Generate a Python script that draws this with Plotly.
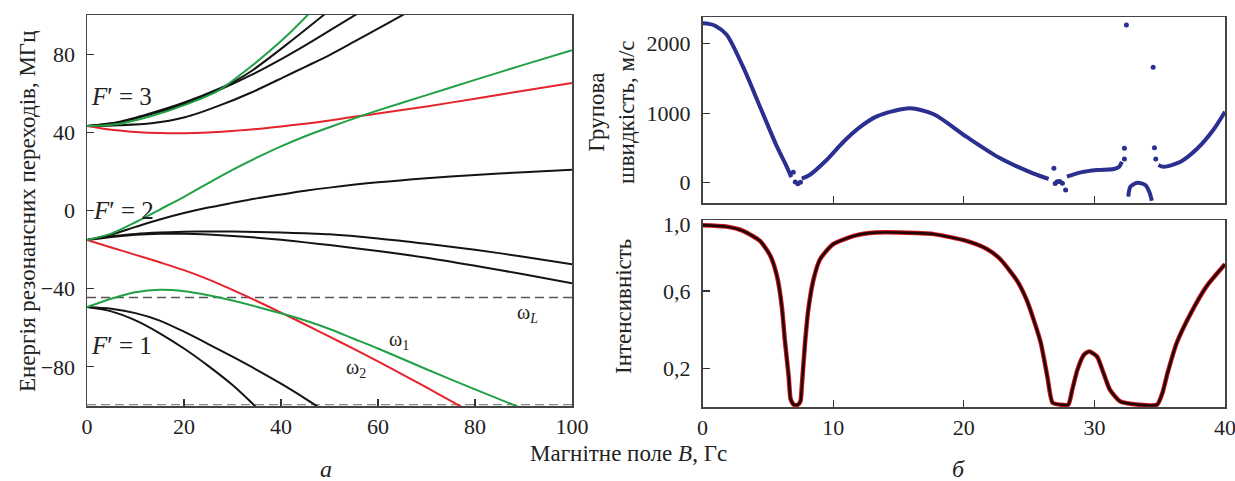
import plotly.graph_objects as go

W, H = 1235, 481

# ---------------- Left panel: transition energies (MHz) vs B (G) ----------------
red3_x = [0, 5, 10, 15, 20, 25, 30, 35, 40, 45, 50, 55, 60, 70, 80, 90, 100]
red3_y = [43.2, 41.3, 40.2, 39.6, 39.5, 39.9, 40.7, 41.7, 43.0, 44.4, 46.0, 47.9, 49.6, 53.2, 57.2, 61.2, 65.2]

green3_x = [0, 6.5, 13.3, 20.2, 27.1, 30.5, 34, 40.8, 45.5, 47]
green3_y = [43.2, 44.3, 48.3, 54.0, 61.3, 67.3, 74.0, 88.5, 100, 104]

blackA_x = [0, 6.5, 13.3, 20.2, 27.1, 30.5, 34, 40.8, 47.7, 50]
blackA_y = [43.2, 45.3, 49.9, 55.4, 62.2, 66.2, 71.5, 84.2, 97.8, 102.5]

blackB_x = [0, 6.5, 13.3, 20.2, 27.1, 34, 40.8, 45, 50, 55, 58]
blackB_y = [43.2, 45.0, 49.3, 54.6, 61.5, 69.5, 78.5, 84.5, 92.0, 99.5, 104]

blackC_x = [0, 6.5, 13.3, 20.2, 27.1, 34, 40.8, 45, 50, 55, 60, 65.8, 68]
blackC_y = [43.2, 43.6, 44.6, 47.7, 53.5, 60.5, 68.5, 73.5, 79.5, 86.2, 93.0, 101.0, 104]

green2_x = [0, 5, 10, 15, 20, 25, 30, 35, 40, 45, 50, 55, 60, 70, 80, 90, 100]
green2_y = [-15.1, -11.8, -6.0, 0.5, 7.0, 14.0, 20.8, 27.0, 32.8, 38.0, 42.6, 47.0, 51.2, 59.0, 66.8, 74.5, 82.0]

black2up_x = [0, 5, 10, 15, 20, 25, 30, 35, 40, 45, 50, 60, 70, 80, 90, 100]
black2up_y = [-15.1, -12.3, -8.4, -4.6, -1.3, 1.5, 3.9, 6.2, 8.2, 10.1, 11.7, 14.4, 16.5, 18.2, 19.6, 20.9]

black2a_x = [0, 5, 10, 15, 20, 25, 30, 35, 40, 45, 50, 60, 70, 75, 80, 90, 100]
black2a_y = [-15.1, -13.2, -12.0, -11.3, -10.9, -10.7, -10.8, -11.0, -11.3, -11.7, -12.2, -14.3, -17.0, -18.5, -20.1, -23.6, -27.5]

black2b_x = [0, 5, 10, 15, 20, 25, 30, 35, 40, 45, 50, 60, 70, 80, 90, 100]
black2b_y = [-15.1, -13.5, -12.4, -11.9, -11.9, -12.3, -13.0, -13.9, -15.0, -16.3, -17.7, -20.7, -24.2, -28.3, -32.6, -37.2]

red2_x = [0, 5, 10, 15, 20, 25, 30, 35, 40, 45, 50, 55, 60, 65, 70, 75, 78]
red2_y = [-15.1, -18.9, -22.7, -26.5, -30.5, -35.2, -40.6, -46.3, -52.2, -58.3, -64.5, -70.8, -77.2, -83.8, -90.5, -97.4, -101.5]

green1_x = [0, 3, 6.5, 10, 15, 20, 25, 30, 35, 40, 45, 50, 55, 60, 70, 80, 90]
green1_y = [-49.4, -46.8, -44.0, -41.8, -40.6, -41.3, -43.3, -46.0, -49.2, -52.6, -56.3, -60.6, -65.6, -70.6, -81.2, -91.5, -101.5]

black1u_x = [0, 5, 10, 15, 20, 25, 30, 35, 40, 45, 48]
black1u_y = [-49.4, -50.3, -52.5, -56.3, -62.0, -68.3, -74.8, -81.5, -88.6, -96.2, -101]

black1l_x = [0, 5, 10, 15, 20, 25, 30, 34, 36]
black1l_y = [-49.4, -51.6, -56.2, -62.8, -70.6, -79.5, -89.3, -98.5, -103.5]

omegaL = -44.5
bottom_dash = -99.3

left_xticks = [0, 20, 40, 60, 80, 100]
left_yticks = [-80, -40, 0, 40, 80]
left_yticktext = ["\u221280", "\u221240", "0", "40", "80"]

# ---------------- Right top: group velocity (m/s) vs B (G) ----------------
vg_seg1_x = [0, 0.5, 1.0, 1.85, 3.1, 4.4, 5.7, 6.4, 6.8]
vg_seg1_y = [2293, 2285, 2255, 2130, 1669, 1094, 518, 250, 80]
vg_seg2_x = [7.6, 8.2, 9.5, 10.8, 12.1, 13.3, 14.6, 15.9, 17.7, 20.2, 22.8, 25.3, 26.5]
vg_seg2_y = [60, 111, 327, 590, 806, 950, 1030, 1070, 985, 662, 351, 135, 55]
vg_seg3_x = [27.9, 28.97, 30.2, 31.5, 31.9, 32.1]
vg_seg3_y = [86, 149, 183, 197, 230, 302]
vg_arc_x = [32.6, 32.76, 33.3, 33.9, 34.2, 34.4]
vg_arc_y = [-201, -57, 0, -33, -129, -259]
vg_seg4_x = [34.9, 35.3, 36.6, 37.9, 39.1, 40.0]
vg_seg4_y = [255, 230, 302, 495, 758, 1022]
vg_dots_x = [6.95, 7.1, 7.3, 7.5, 26.9, 27.0, 27.15, 27.35, 27.55, 27.8, 32.3, 32.3, 32.45, 34.5, 34.6, 34.7]
vg_dots_y = [150, 10, -15, 5, 207, -10, 12, 18, -8, -105, 340, 495, 2269, 1660, 504, 341]

# ---------------- Right bottom: intensity vs B (G) ----------------
int_x = [0, 1.8, 3.1, 4.4, 5.2, 5.7, 6.07, 6.3, 6.6, 6.75, 7.0, 7.3, 7.5, 7.6, 7.85, 8.1, 8.5, 9.0, 10.0, 11.6,
         13.3, 15.1, 17.7, 20.2, 21.8, 22.8, 24.1, 24.8, 25.35, 25.9, 26.4, 26.8, 27.4, 28.0, 28.3, 28.7, 29.2,
         29.6, 30.2, 30.7, 31.2, 32.0, 33.4, 34.8, 35.2, 35.6, 36.3, 37.4, 38.6, 40]
int_y = [0.940, 0.933, 0.911, 0.859, 0.781, 0.677, 0.521, 0.348, 0.157, 0.04, 0.012, 0.012, 0.03, 0.105, 0.331,
         0.504, 0.660, 0.764, 0.842, 0.885, 0.902, 0.902, 0.894, 0.859, 0.816, 0.764, 0.651, 0.556, 0.452, 0.331,
         0.157, 0.022, 0.012, 0.012, 0.088, 0.192, 0.270, 0.287, 0.261, 0.175, 0.088, 0.028, 0.012, 0.012, 0.071,
         0.175, 0.331, 0.487, 0.625, 0.738]

vg_ticks = [0, 1000, 2000]
int_ticks = [0.2, 0.6]
int_ticktext = ["0,2", "0,6"]
right_xticks = [0, 10, 20, 30, 40]

# ---------------- Figure ----------------
def pxx(x):
    return x / W

def pyy(y):
    return (H - y) / H

BLACK = "#141414"
GREEN = "#22a046"
RED = "#e5232b"
NAVY = "#2b2f8f"
SERIF = "Liberation Serif"

fig = go.Figure()

def line(x, y, color, xa="x", ya="y", width=2.0):
    fig.add_trace(go.Scatter(x=x, y=y, mode="lines", xaxis=xa, yaxis=ya,
                             line=dict(color=color, width=width, shape="spline", smoothing=0.8),
                             hoverinfo="skip", showlegend=False))

# dashed lines
fig.add_trace(go.Scatter(x=[0, 100], y=[omegaL, omegaL], mode="lines",
                         line=dict(color="#555555", width=1.6, dash="9px,5px"),
                         hoverinfo="skip", showlegend=False))
fig.add_trace(go.Scatter(x=[0, 100], y=[bottom_dash, bottom_dash], mode="lines",
                         line=dict(color="#888888", width=1.3, dash="9px,5px"),
                         hoverinfo="skip", showlegend=False))

for xs, ys, c in [
    (blackA_x, blackA_y, BLACK), (blackB_x, blackB_y, BLACK), (blackC_x, blackC_y, BLACK),
    (black2up_x, black2up_y, BLACK), (black2a_x, black2a_y, BLACK), (black2b_x, black2b_y, BLACK),
    (black1u_x, black1u_y, BLACK), (black1l_x, black1l_y, BLACK),
    (red3_x, red3_y, RED), (red2_x, red2_y, RED),
    (green3_x, green3_y, GREEN), (green2_x, green2_y, GREEN), (green1_x, green1_y, GREEN),
]:
    line(xs, ys, c)

# group velocity
for xs, ys in [(vg_seg1_x, vg_seg1_y), (vg_seg2_x, vg_seg2_y), (vg_seg3_x, vg_seg3_y),
               (vg_arc_x, vg_arc_y), (vg_seg4_x, vg_seg4_y)]:
    line(xs, ys, NAVY, "x2", "y2", width=4.0)
fig.add_trace(go.Scatter(x=vg_dots_x, y=vg_dots_y, mode="markers", xaxis="x2", yaxis="y2",
                         marker=dict(color=NAVY, size=5), hoverinfo="skip", showlegend=False))

# intensity (dark line with red halo)
fig.add_trace(go.Scatter(x=int_x, y=int_y, mode="lines", xaxis="x3", yaxis="y3",
                         line=dict(color="#c8141a", width=4.5, shape="spline", smoothing=0.6),
                         hoverinfo="skip", showlegend=False))
fig.add_trace(go.Scatter(x=int_x, y=int_y, mode="lines", xaxis="x3", yaxis="y3",
                         line=dict(color="#1c0606", width=2.4, shape="spline", smoothing=0.6),
                         hoverinfo="skip", showlegend=False))

axis_common = dict(showgrid=False, zeroline=False, showline=True, linecolor="#444444", linewidth=1.5,
                   mirror=True, ticks="inside", ticklen=7, tickwidth=1.2, tickcolor="#333333",
                   automargin=False, ticklabeloverflow="allow",
                   tickfont=dict(family=SERIF, size=22, color="#222222"))

fig.update_layout(
    width=W, height=H, margin=dict(l=0, r=0, t=0, b=0, pad=0, autoexpand=False),
    paper_bgcolor="white", plot_bgcolor="white", showlegend=False,
    xaxis=dict(domain=[pxx(87), pxx(572)], range=[0, 100], tickvals=left_xticks,
               ticklabelstandoff=0, anchor="y", **axis_common),
    yaxis=dict(domain=[pyy(406), pyy(15)], range=[-100, 100], tickvals=left_yticks,
               ticktext=left_yticktext, ticklabelstandoff=6, anchor="x", **axis_common),
    xaxis2=dict(domain=[pxx(702.5), pxx(1225)], range=[0, 40], tickvals=[10, 20, 30],
                showticklabels=False, anchor="y2", **axis_common),
    yaxis2=dict(domain=[pyy(203), pyy(17)], range=[-292, 2384], tickvals=vg_ticks,
                ticklabelstandoff=6, anchor="x2", **axis_common),
    xaxis3=dict(domain=[pxx(702.5), pxx(1225)], range=[0, 40], tickvals=right_xticks,
                ticklabelstandoff=0, anchor="y3", **axis_common),
    yaxis3=dict(domain=[pyy(407), pyy(220)], range=[0, 0.967], tickvals=int_ticks,
                ticktext=int_ticktext, ticklabelstandoff=6, anchor="x3", **axis_common),
)

def ann(text, x, y, size=23, angle=0, xanchor="center", yanchor="middle"):
    fig.add_annotation(text=text, x=pxx(x), y=pyy(y), xref="paper", yref="paper",
                       showarrow=False, textangle=angle, xanchor=xanchor, yanchor=yanchor,
                       font=dict(family=SERIF, size=size, color="#222222"))

ann("Енергія резонансних переходів, МГц", 27, 212, angle=-90)
ann("Магнітне поле <i>B</i>, Гс", 628, 453)
ann("<i>а</i>", 326, 469, size=24)
ann("<i>б</i>", 958, 469, size=24)
ann("Групова<br>швидкість, м/с", 611, 112, angle=-90)
ann("Інтенсивність", 623, 307, angle=-90)
ann("1,0", 693, 224, size=22, xanchor="right")

ann("<i>F</i>\u2032 = 3", 121, 97, size=25)
ann("<i>F</i>\u2032 = 2", 123, 210, size=25)
ann("<i>F</i>\u2032 = 1", 121, 346, size=25)
ann("\u03c9<sub>1</sub>", 399, 340, size=20)
ann("\u03c9<sub>2</sub>", 356, 368, size=20)
ann("\u03c9<sub><i>L</i></sub>", 527, 313, size=20)

fig.write_html("out.html", config={"displayModeBar": False, "staticPlot": True},
               post_script="document.body.style.margin='0px';document.body.style.padding='0px';"
                           "document.documentElement.style.overflow='hidden';")
